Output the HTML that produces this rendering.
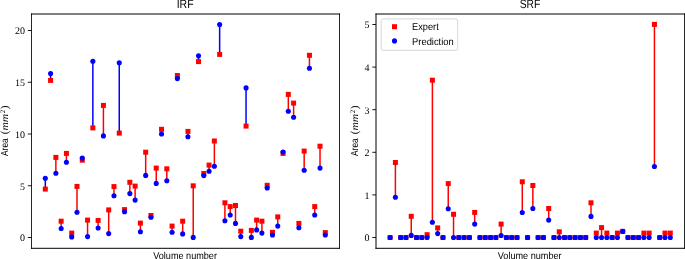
<!DOCTYPE html>
<html><head><meta charset="utf-8"><style>
html,body{margin:0;padding:0;background:#fff;overflow:hidden;}
svg{display:block;will-change:transform;text-rendering:geometricPrecision;}
text{fill:#000;}
.tk{font-family:"Liberation Serif",serif;font-size:10px;}
.ttl{font-family:"Liberation Sans",sans-serif;font-size:12px;}
.lbl{font-family:"Liberation Sans",sans-serif;font-size:10px;}
.mi{font-family:"Liberation Serif",serif;font-style:italic;font-size:10px;}
.par{font-family:"Liberation Serif",serif;font-size:11px;}
.sup{font-family:"Liberation Serif",serif;font-size:7px;}
</style></head><body>
<svg width="685" height="259" viewBox="0 0 685 259">
<rect width="685" height="259" fill="#fff"/>
<line x1="45.3" y1="189.1" x2="45.3" y2="178.2" stroke="#0000ff" stroke-width="1.5"/>
<line x1="50.58" y1="80.4" x2="50.58" y2="73.6" stroke="#0000ff" stroke-width="1.5"/>
<line x1="55.87" y1="157.4" x2="55.87" y2="173.3" stroke="#ff0000" stroke-width="1.5"/>
<line x1="61.15" y1="221.2" x2="61.15" y2="228.5" stroke="#ff0000" stroke-width="1.5"/>
<line x1="66.43" y1="153.4" x2="66.43" y2="162.3" stroke="#ff0000" stroke-width="1.5"/>
<line x1="71.72" y1="233.1" x2="71.72" y2="236.9" stroke="#ff0000" stroke-width="1.5"/>
<line x1="77" y1="186.4" x2="77" y2="212.3" stroke="#ff0000" stroke-width="1.5"/>
<line x1="82.28" y1="160.2" x2="82.28" y2="158.1" stroke="#0000ff" stroke-width="1.5"/>
<line x1="87.56" y1="220.1" x2="87.56" y2="236.6" stroke="#ff0000" stroke-width="1.5"/>
<line x1="92.85" y1="127.9" x2="92.85" y2="61.2" stroke="#0000ff" stroke-width="1.5"/>
<line x1="98.13" y1="220.4" x2="98.13" y2="228" stroke="#ff0000" stroke-width="1.5"/>
<line x1="103.41" y1="105.4" x2="103.41" y2="135.9" stroke="#ff0000" stroke-width="1.5"/>
<line x1="108.7" y1="209.9" x2="108.7" y2="233.6" stroke="#ff0000" stroke-width="1.5"/>
<line x1="113.98" y1="186.6" x2="113.98" y2="195.8" stroke="#ff0000" stroke-width="1.5"/>
<line x1="119.26" y1="133.1" x2="119.26" y2="62.8" stroke="#0000ff" stroke-width="1.5"/>
<line x1="124.55" y1="209.6" x2="124.55" y2="211.8" stroke="#ff0000" stroke-width="1.5"/>
<line x1="129.83" y1="182.3" x2="129.83" y2="193.6" stroke="#ff0000" stroke-width="1.5"/>
<line x1="135.11" y1="186.1" x2="135.11" y2="200.1" stroke="#ff0000" stroke-width="1.5"/>
<line x1="140.39" y1="223.1" x2="140.39" y2="231.8" stroke="#ff0000" stroke-width="1.5"/>
<line x1="145.68" y1="152.2" x2="145.68" y2="175.4" stroke="#ff0000" stroke-width="1.5"/>
<line x1="150.96" y1="215.5" x2="150.96" y2="217.2" stroke="#ff0000" stroke-width="1.5"/>
<line x1="156.24" y1="168.1" x2="156.24" y2="183.4" stroke="#ff0000" stroke-width="1.5"/>
<line x1="161.53" y1="129.3" x2="161.53" y2="134" stroke="#ff0000" stroke-width="1.5"/>
<line x1="166.81" y1="168.8" x2="166.81" y2="180.7" stroke="#ff0000" stroke-width="1.5"/>
<line x1="172.09" y1="226.1" x2="172.09" y2="232.3" stroke="#ff0000" stroke-width="1.5"/>
<line x1="177.38" y1="75.5" x2="177.38" y2="78.6" stroke="#ff0000" stroke-width="1.5"/>
<line x1="182.66" y1="221.2" x2="182.66" y2="233.9" stroke="#ff0000" stroke-width="1.5"/>
<line x1="187.94" y1="131.4" x2="187.94" y2="136.8" stroke="#ff0000" stroke-width="1.5"/>
<line x1="193.22" y1="185.8" x2="193.22" y2="237.4" stroke="#ff0000" stroke-width="1.5"/>
<line x1="198.51" y1="61.6" x2="198.51" y2="55.8" stroke="#0000ff" stroke-width="1.5"/>
<line x1="203.79" y1="173.5" x2="203.79" y2="175.6" stroke="#ff0000" stroke-width="1.5"/>
<line x1="209.07" y1="165.1" x2="209.07" y2="171.2" stroke="#ff0000" stroke-width="1.5"/>
<line x1="214.36" y1="141" x2="214.36" y2="166.3" stroke="#ff0000" stroke-width="1.5"/>
<line x1="219.64" y1="54.4" x2="219.64" y2="24.5" stroke="#0000ff" stroke-width="1.5"/>
<line x1="224.92" y1="202.8" x2="224.92" y2="220.7" stroke="#ff0000" stroke-width="1.5"/>
<line x1="230.21" y1="206.6" x2="230.21" y2="215" stroke="#ff0000" stroke-width="1.5"/>
<line x1="235.49" y1="205.5" x2="235.49" y2="223.4" stroke="#ff0000" stroke-width="1.5"/>
<line x1="240.77" y1="231.2" x2="240.77" y2="236.6" stroke="#ff0000" stroke-width="1.5"/>
<line x1="246.05" y1="126.1" x2="246.05" y2="87.9" stroke="#0000ff" stroke-width="1.5"/>
<line x1="251.34" y1="230.4" x2="251.34" y2="237.4" stroke="#ff0000" stroke-width="1.5"/>
<line x1="256.62" y1="220.1" x2="256.62" y2="229.9" stroke="#ff0000" stroke-width="1.5"/>
<line x1="261.9" y1="221.2" x2="261.9" y2="233.1" stroke="#ff0000" stroke-width="1.5"/>
<line x1="267.19" y1="185.3" x2="267.19" y2="188" stroke="#ff0000" stroke-width="1.5"/>
<line x1="272.47" y1="232.3" x2="272.47" y2="235" stroke="#ff0000" stroke-width="1.5"/>
<line x1="277.75" y1="216.9" x2="277.75" y2="226.1" stroke="#ff0000" stroke-width="1.5"/>
<line x1="283.04" y1="153.4" x2="283.04" y2="152" stroke="#0000ff" stroke-width="1.5"/>
<line x1="288.32" y1="94.4" x2="288.32" y2="111.3" stroke="#ff0000" stroke-width="1.5"/>
<line x1="293.6" y1="103.1" x2="293.6" y2="117.3" stroke="#ff0000" stroke-width="1.5"/>
<line x1="298.88" y1="223.4" x2="298.88" y2="227.7" stroke="#ff0000" stroke-width="1.5"/>
<line x1="304.17" y1="151.1" x2="304.17" y2="170.2" stroke="#ff0000" stroke-width="1.5"/>
<line x1="309.45" y1="55.3" x2="309.45" y2="68.2" stroke="#ff0000" stroke-width="1.5"/>
<line x1="314.73" y1="206.6" x2="314.73" y2="215" stroke="#ff0000" stroke-width="1.5"/>
<line x1="320.02" y1="146.2" x2="320.02" y2="168.1" stroke="#ff0000" stroke-width="1.5"/>
<line x1="325.3" y1="232.6" x2="325.3" y2="235" stroke="#ff0000" stroke-width="1.5"/>
<rect x="42.8" y="186.6" width="5" height="5" fill="#ff0000"/>
<rect x="48.08" y="77.9" width="5" height="5" fill="#ff0000"/>
<rect x="53.37" y="154.9" width="5" height="5" fill="#ff0000"/>
<rect x="58.65" y="218.7" width="5" height="5" fill="#ff0000"/>
<rect x="63.93" y="150.9" width="5" height="5" fill="#ff0000"/>
<rect x="69.22" y="230.6" width="5" height="5" fill="#ff0000"/>
<rect x="74.5" y="183.9" width="5" height="5" fill="#ff0000"/>
<rect x="79.78" y="157.7" width="5" height="5" fill="#ff0000"/>
<rect x="85.06" y="217.6" width="5" height="5" fill="#ff0000"/>
<rect x="90.35" y="125.4" width="5" height="5" fill="#ff0000"/>
<rect x="95.63" y="217.9" width="5" height="5" fill="#ff0000"/>
<rect x="100.91" y="102.9" width="5" height="5" fill="#ff0000"/>
<rect x="106.2" y="207.4" width="5" height="5" fill="#ff0000"/>
<rect x="111.48" y="184.1" width="5" height="5" fill="#ff0000"/>
<rect x="116.76" y="130.6" width="5" height="5" fill="#ff0000"/>
<rect x="122.05" y="207.1" width="5" height="5" fill="#ff0000"/>
<rect x="127.33" y="179.8" width="5" height="5" fill="#ff0000"/>
<rect x="132.61" y="183.6" width="5" height="5" fill="#ff0000"/>
<rect x="137.89" y="220.6" width="5" height="5" fill="#ff0000"/>
<rect x="143.18" y="149.7" width="5" height="5" fill="#ff0000"/>
<rect x="148.46" y="213" width="5" height="5" fill="#ff0000"/>
<rect x="153.74" y="165.6" width="5" height="5" fill="#ff0000"/>
<rect x="159.03" y="126.8" width="5" height="5" fill="#ff0000"/>
<rect x="164.31" y="166.3" width="5" height="5" fill="#ff0000"/>
<rect x="169.59" y="223.6" width="5" height="5" fill="#ff0000"/>
<rect x="174.88" y="73" width="5" height="5" fill="#ff0000"/>
<rect x="180.16" y="218.7" width="5" height="5" fill="#ff0000"/>
<rect x="185.44" y="128.9" width="5" height="5" fill="#ff0000"/>
<rect x="190.72" y="183.3" width="5" height="5" fill="#ff0000"/>
<rect x="196.01" y="59.1" width="5" height="5" fill="#ff0000"/>
<rect x="201.29" y="171" width="5" height="5" fill="#ff0000"/>
<rect x="206.57" y="162.6" width="5" height="5" fill="#ff0000"/>
<rect x="211.86" y="138.5" width="5" height="5" fill="#ff0000"/>
<rect x="217.14" y="51.9" width="5" height="5" fill="#ff0000"/>
<rect x="222.42" y="200.3" width="5" height="5" fill="#ff0000"/>
<rect x="227.71" y="204.1" width="5" height="5" fill="#ff0000"/>
<rect x="232.99" y="203" width="5" height="5" fill="#ff0000"/>
<rect x="238.27" y="228.7" width="5" height="5" fill="#ff0000"/>
<rect x="243.55" y="123.6" width="5" height="5" fill="#ff0000"/>
<rect x="248.84" y="227.9" width="5" height="5" fill="#ff0000"/>
<rect x="254.12" y="217.6" width="5" height="5" fill="#ff0000"/>
<rect x="259.4" y="218.7" width="5" height="5" fill="#ff0000"/>
<rect x="264.69" y="182.8" width="5" height="5" fill="#ff0000"/>
<rect x="269.97" y="229.8" width="5" height="5" fill="#ff0000"/>
<rect x="275.25" y="214.4" width="5" height="5" fill="#ff0000"/>
<rect x="280.54" y="150.9" width="5" height="5" fill="#ff0000"/>
<rect x="285.82" y="91.9" width="5" height="5" fill="#ff0000"/>
<rect x="291.1" y="100.6" width="5" height="5" fill="#ff0000"/>
<rect x="296.38" y="220.9" width="5" height="5" fill="#ff0000"/>
<rect x="301.67" y="148.6" width="5" height="5" fill="#ff0000"/>
<rect x="306.95" y="52.8" width="5" height="5" fill="#ff0000"/>
<rect x="312.23" y="204.1" width="5" height="5" fill="#ff0000"/>
<rect x="317.52" y="143.7" width="5" height="5" fill="#ff0000"/>
<rect x="322.8" y="230.1" width="5" height="5" fill="#ff0000"/>
<circle cx="45.3" cy="178.2" r="2.55" fill="#0000ff"/>
<circle cx="50.58" cy="73.6" r="2.55" fill="#0000ff"/>
<circle cx="55.87" cy="173.3" r="2.55" fill="#0000ff"/>
<circle cx="61.15" cy="228.5" r="2.55" fill="#0000ff"/>
<circle cx="66.43" cy="162.3" r="2.55" fill="#0000ff"/>
<circle cx="71.72" cy="236.9" r="2.55" fill="#0000ff"/>
<circle cx="77" cy="212.3" r="2.55" fill="#0000ff"/>
<circle cx="82.28" cy="158.1" r="2.55" fill="#0000ff"/>
<circle cx="87.56" cy="236.6" r="2.55" fill="#0000ff"/>
<circle cx="92.85" cy="61.2" r="2.55" fill="#0000ff"/>
<circle cx="98.13" cy="228" r="2.55" fill="#0000ff"/>
<circle cx="103.41" cy="135.9" r="2.55" fill="#0000ff"/>
<circle cx="108.7" cy="233.6" r="2.55" fill="#0000ff"/>
<circle cx="113.98" cy="195.8" r="2.55" fill="#0000ff"/>
<circle cx="119.26" cy="62.8" r="2.55" fill="#0000ff"/>
<circle cx="124.55" cy="211.8" r="2.55" fill="#0000ff"/>
<circle cx="129.83" cy="193.6" r="2.55" fill="#0000ff"/>
<circle cx="135.11" cy="200.1" r="2.55" fill="#0000ff"/>
<circle cx="140.39" cy="231.8" r="2.55" fill="#0000ff"/>
<circle cx="145.68" cy="175.4" r="2.55" fill="#0000ff"/>
<circle cx="150.96" cy="217.2" r="2.55" fill="#0000ff"/>
<circle cx="156.24" cy="183.4" r="2.55" fill="#0000ff"/>
<circle cx="161.53" cy="134" r="2.55" fill="#0000ff"/>
<circle cx="166.81" cy="180.7" r="2.55" fill="#0000ff"/>
<circle cx="172.09" cy="232.3" r="2.55" fill="#0000ff"/>
<circle cx="177.38" cy="78.6" r="2.55" fill="#0000ff"/>
<circle cx="182.66" cy="233.9" r="2.55" fill="#0000ff"/>
<circle cx="187.94" cy="136.8" r="2.55" fill="#0000ff"/>
<circle cx="193.22" cy="237.4" r="2.55" fill="#0000ff"/>
<circle cx="198.51" cy="55.8" r="2.55" fill="#0000ff"/>
<circle cx="203.79" cy="175.6" r="2.55" fill="#0000ff"/>
<circle cx="209.07" cy="171.2" r="2.55" fill="#0000ff"/>
<circle cx="214.36" cy="166.3" r="2.55" fill="#0000ff"/>
<circle cx="219.64" cy="24.5" r="2.55" fill="#0000ff"/>
<circle cx="224.92" cy="220.7" r="2.55" fill="#0000ff"/>
<circle cx="230.21" cy="215" r="2.55" fill="#0000ff"/>
<circle cx="235.49" cy="223.4" r="2.55" fill="#0000ff"/>
<circle cx="240.77" cy="236.6" r="2.55" fill="#0000ff"/>
<circle cx="246.05" cy="87.9" r="2.55" fill="#0000ff"/>
<circle cx="251.34" cy="237.4" r="2.55" fill="#0000ff"/>
<circle cx="256.62" cy="229.9" r="2.55" fill="#0000ff"/>
<circle cx="261.9" cy="233.1" r="2.55" fill="#0000ff"/>
<circle cx="267.19" cy="188" r="2.55" fill="#0000ff"/>
<circle cx="272.47" cy="235" r="2.55" fill="#0000ff"/>
<circle cx="277.75" cy="226.1" r="2.55" fill="#0000ff"/>
<circle cx="283.04" cy="152" r="2.55" fill="#0000ff"/>
<circle cx="288.32" cy="111.3" r="2.55" fill="#0000ff"/>
<circle cx="293.6" cy="117.3" r="2.55" fill="#0000ff"/>
<circle cx="298.88" cy="227.7" r="2.55" fill="#0000ff"/>
<circle cx="304.17" cy="170.2" r="2.55" fill="#0000ff"/>
<circle cx="309.45" cy="68.2" r="2.55" fill="#0000ff"/>
<circle cx="314.73" cy="215" r="2.55" fill="#0000ff"/>
<circle cx="320.02" cy="168.1" r="2.55" fill="#0000ff"/>
<circle cx="325.3" cy="235" r="2.55" fill="#0000ff"/>
<line x1="31" y1="14.0" x2="340" y2="14.0" stroke="#000" stroke-width="1"/>
<line x1="31" y1="248.3" x2="340" y2="248.3" stroke="#000" stroke-width="1"/>
<line x1="31.5" y1="13.5" x2="31.5" y2="248.8" stroke="#000" stroke-width="0.85"/>
<line x1="339.5" y1="13.5" x2="339.5" y2="248.8" stroke="#000" stroke-width="0.85"/>
<line x1="27.8" y1="237.5" x2="31.5" y2="237.5" stroke="#000" stroke-width="0.9"/>
<text x="24.9" y="241.3" text-anchor="end" class="tk">0</text>
<line x1="27.8" y1="185.75" x2="31.5" y2="185.75" stroke="#000" stroke-width="0.9"/>
<text x="24.9" y="189.55" text-anchor="end" class="tk">5</text>
<line x1="27.8" y1="134" x2="31.5" y2="134" stroke="#000" stroke-width="0.9"/>
<text x="24.9" y="137.8" text-anchor="end" class="tk">10</text>
<line x1="27.8" y1="82.25" x2="31.5" y2="82.25" stroke="#000" stroke-width="0.9"/>
<text x="24.9" y="86.05" text-anchor="end" class="tk">15</text>
<line x1="27.8" y1="30.5" x2="31.5" y2="30.5" stroke="#000" stroke-width="0.9"/>
<text x="24.9" y="34.3" text-anchor="end" class="tk">20</text>
<text x="176.64" y="8" textLength="16.93" lengthAdjust="spacingAndGlyphs" class="ttl">IRF</text>
<text x="153.21" y="259" textLength="63.72" lengthAdjust="spacingAndGlyphs" class="lbl">Volume number</text>
<g transform="translate(8.2,0) rotate(-90)"><text x="-156" y="0" textLength="17.72" lengthAdjust="spacingAndGlyphs" class="lbl">Area</text><text x="-134.3" y="0" class="par">(</text><text x="-130.56" y="0" textLength="16.78" lengthAdjust="spacingAndGlyphs" class="mi">mm</text><text x="-113.2" y="-3.4" class="sup">2</text><text x="-109.2" y="0" class="par">)</text></g>
<line x1="395.39" y1="162.5" x2="395.39" y2="197.2" stroke="#ff0000" stroke-width="1.5"/>
<line x1="411.25" y1="216.3" x2="411.25" y2="235.4" stroke="#ff0000" stroke-width="1.5"/>
<line x1="427.11" y1="234.7" x2="427.11" y2="237.5" stroke="#ff0000" stroke-width="1.5"/>
<line x1="432.39" y1="80.2" x2="432.39" y2="222.2" stroke="#ff0000" stroke-width="1.5"/>
<line x1="437.68" y1="227.9" x2="437.68" y2="233.6" stroke="#ff0000" stroke-width="1.5"/>
<line x1="448.25" y1="183.6" x2="448.25" y2="208.7" stroke="#ff0000" stroke-width="1.5"/>
<line x1="453.54" y1="214.3" x2="453.54" y2="237.5" stroke="#ff0000" stroke-width="1.5"/>
<line x1="474.69" y1="212.4" x2="474.69" y2="224.1" stroke="#ff0000" stroke-width="1.5"/>
<line x1="501.12" y1="224.1" x2="501.12" y2="235.5" stroke="#ff0000" stroke-width="1.5"/>
<line x1="522.27" y1="181.8" x2="522.27" y2="212.5" stroke="#ff0000" stroke-width="1.5"/>
<line x1="532.84" y1="185.5" x2="532.84" y2="208.5" stroke="#ff0000" stroke-width="1.5"/>
<line x1="548.7" y1="208.5" x2="548.7" y2="220.1" stroke="#ff0000" stroke-width="1.5"/>
<line x1="559.28" y1="231.8" x2="559.28" y2="237.5" stroke="#ff0000" stroke-width="1.5"/>
<line x1="591" y1="202.8" x2="591" y2="216.4" stroke="#ff0000" stroke-width="1.5"/>
<line x1="596.28" y1="233.1" x2="596.28" y2="237.5" stroke="#ff0000" stroke-width="1.5"/>
<line x1="601.57" y1="227.6" x2="601.57" y2="237.5" stroke="#ff0000" stroke-width="1.5"/>
<line x1="606.86" y1="233.1" x2="606.86" y2="237.5" stroke="#ff0000" stroke-width="1.5"/>
<line x1="617.43" y1="233.1" x2="617.43" y2="237.5" stroke="#ff0000" stroke-width="1.5"/>
<line x1="643.87" y1="233.1" x2="643.87" y2="237.5" stroke="#ff0000" stroke-width="1.5"/>
<line x1="649.15" y1="233.1" x2="649.15" y2="237.5" stroke="#ff0000" stroke-width="1.5"/>
<line x1="654.44" y1="24.4" x2="654.44" y2="166.5" stroke="#ff0000" stroke-width="1.5"/>
<line x1="665.01" y1="233.1" x2="665.01" y2="237.5" stroke="#ff0000" stroke-width="1.5"/>
<line x1="670.3" y1="233.1" x2="670.3" y2="237.5" stroke="#ff0000" stroke-width="1.5"/>
<rect x="387.6" y="235" width="5" height="5" fill="#ff0000"/>
<rect x="392.89" y="160" width="5" height="5" fill="#ff0000"/>
<rect x="398.17" y="235" width="5" height="5" fill="#ff0000"/>
<rect x="403.46" y="235" width="5" height="5" fill="#ff0000"/>
<rect x="408.75" y="213.8" width="5" height="5" fill="#ff0000"/>
<rect x="414.03" y="235" width="5" height="5" fill="#ff0000"/>
<rect x="419.32" y="235" width="5" height="5" fill="#ff0000"/>
<rect x="424.61" y="232.2" width="5" height="5" fill="#ff0000"/>
<rect x="429.89" y="77.7" width="5" height="5" fill="#ff0000"/>
<rect x="435.18" y="225.4" width="5" height="5" fill="#ff0000"/>
<rect x="440.47" y="235" width="5" height="5" fill="#ff0000"/>
<rect x="445.75" y="181.1" width="5" height="5" fill="#ff0000"/>
<rect x="451.04" y="211.8" width="5" height="5" fill="#ff0000"/>
<rect x="456.33" y="235" width="5" height="5" fill="#ff0000"/>
<rect x="461.62" y="235" width="5" height="5" fill="#ff0000"/>
<rect x="466.9" y="235" width="5" height="5" fill="#ff0000"/>
<rect x="472.19" y="209.9" width="5" height="5" fill="#ff0000"/>
<rect x="477.48" y="235" width="5" height="5" fill="#ff0000"/>
<rect x="482.76" y="235" width="5" height="5" fill="#ff0000"/>
<rect x="488.05" y="235" width="5" height="5" fill="#ff0000"/>
<rect x="493.34" y="235" width="5" height="5" fill="#ff0000"/>
<rect x="498.62" y="221.6" width="5" height="5" fill="#ff0000"/>
<rect x="503.91" y="235" width="5" height="5" fill="#ff0000"/>
<rect x="509.2" y="235" width="5" height="5" fill="#ff0000"/>
<rect x="514.48" y="235" width="5" height="5" fill="#ff0000"/>
<rect x="519.77" y="179.3" width="5" height="5" fill="#ff0000"/>
<rect x="525.06" y="235" width="5" height="5" fill="#ff0000"/>
<rect x="530.34" y="183" width="5" height="5" fill="#ff0000"/>
<rect x="535.63" y="235" width="5" height="5" fill="#ff0000"/>
<rect x="540.92" y="235" width="5" height="5" fill="#ff0000"/>
<rect x="546.2" y="206" width="5" height="5" fill="#ff0000"/>
<rect x="551.49" y="235" width="5" height="5" fill="#ff0000"/>
<rect x="556.78" y="229.3" width="5" height="5" fill="#ff0000"/>
<rect x="562.06" y="235" width="5" height="5" fill="#ff0000"/>
<rect x="567.35" y="235" width="5" height="5" fill="#ff0000"/>
<rect x="572.64" y="235" width="5" height="5" fill="#ff0000"/>
<rect x="577.92" y="235" width="5" height="5" fill="#ff0000"/>
<rect x="583.21" y="235" width="5" height="5" fill="#ff0000"/>
<rect x="588.5" y="200.3" width="5" height="5" fill="#ff0000"/>
<rect x="593.78" y="230.6" width="5" height="5" fill="#ff0000"/>
<rect x="599.07" y="225.1" width="5" height="5" fill="#ff0000"/>
<rect x="604.36" y="230.6" width="5" height="5" fill="#ff0000"/>
<rect x="609.65" y="235" width="5" height="5" fill="#ff0000"/>
<rect x="614.93" y="230.6" width="5" height="5" fill="#ff0000"/>
<rect x="620.22" y="228.9" width="5" height="5" fill="#ff0000"/>
<rect x="625.51" y="235" width="5" height="5" fill="#ff0000"/>
<rect x="630.79" y="235" width="5" height="5" fill="#ff0000"/>
<rect x="636.08" y="235" width="5" height="5" fill="#ff0000"/>
<rect x="641.37" y="230.6" width="5" height="5" fill="#ff0000"/>
<rect x="646.65" y="230.6" width="5" height="5" fill="#ff0000"/>
<rect x="651.94" y="21.9" width="5" height="5" fill="#ff0000"/>
<rect x="657.23" y="235" width="5" height="5" fill="#ff0000"/>
<rect x="662.51" y="230.6" width="5" height="5" fill="#ff0000"/>
<rect x="667.8" y="230.6" width="5" height="5" fill="#ff0000"/>
<circle cx="390.1" cy="237.5" r="2.55" fill="#0000ff"/>
<circle cx="395.39" cy="197.2" r="2.55" fill="#0000ff"/>
<circle cx="400.67" cy="237.5" r="2.55" fill="#0000ff"/>
<circle cx="405.96" cy="237.5" r="2.55" fill="#0000ff"/>
<circle cx="411.25" cy="235.4" r="2.55" fill="#0000ff"/>
<circle cx="416.53" cy="237.5" r="2.55" fill="#0000ff"/>
<circle cx="421.82" cy="237.5" r="2.55" fill="#0000ff"/>
<circle cx="427.11" cy="237.5" r="2.55" fill="#0000ff"/>
<circle cx="432.39" cy="222.2" r="2.55" fill="#0000ff"/>
<circle cx="437.68" cy="233.6" r="2.55" fill="#0000ff"/>
<circle cx="442.97" cy="237.5" r="2.55" fill="#0000ff"/>
<circle cx="448.25" cy="208.7" r="2.55" fill="#0000ff"/>
<circle cx="453.54" cy="237.5" r="2.55" fill="#0000ff"/>
<circle cx="458.83" cy="237.5" r="2.55" fill="#0000ff"/>
<circle cx="464.12" cy="237.5" r="2.55" fill="#0000ff"/>
<circle cx="469.4" cy="237.5" r="2.55" fill="#0000ff"/>
<circle cx="474.69" cy="224.1" r="2.55" fill="#0000ff"/>
<circle cx="479.98" cy="237.5" r="2.55" fill="#0000ff"/>
<circle cx="485.26" cy="237.5" r="2.55" fill="#0000ff"/>
<circle cx="490.55" cy="237.5" r="2.55" fill="#0000ff"/>
<circle cx="495.84" cy="237.5" r="2.55" fill="#0000ff"/>
<circle cx="501.12" cy="235.5" r="2.55" fill="#0000ff"/>
<circle cx="506.41" cy="237.5" r="2.55" fill="#0000ff"/>
<circle cx="511.7" cy="237.5" r="2.55" fill="#0000ff"/>
<circle cx="516.98" cy="237.5" r="2.55" fill="#0000ff"/>
<circle cx="522.27" cy="212.5" r="2.55" fill="#0000ff"/>
<circle cx="527.56" cy="237.5" r="2.55" fill="#0000ff"/>
<circle cx="532.84" cy="208.5" r="2.55" fill="#0000ff"/>
<circle cx="538.13" cy="237.5" r="2.55" fill="#0000ff"/>
<circle cx="543.42" cy="237.5" r="2.55" fill="#0000ff"/>
<circle cx="548.7" cy="220.1" r="2.55" fill="#0000ff"/>
<circle cx="553.99" cy="237.5" r="2.55" fill="#0000ff"/>
<circle cx="559.28" cy="237.5" r="2.55" fill="#0000ff"/>
<circle cx="564.56" cy="237.5" r="2.55" fill="#0000ff"/>
<circle cx="569.85" cy="237.5" r="2.55" fill="#0000ff"/>
<circle cx="575.14" cy="237.5" r="2.55" fill="#0000ff"/>
<circle cx="580.42" cy="237.5" r="2.55" fill="#0000ff"/>
<circle cx="585.71" cy="237.5" r="2.55" fill="#0000ff"/>
<circle cx="591" cy="216.4" r="2.55" fill="#0000ff"/>
<circle cx="596.28" cy="237.5" r="2.55" fill="#0000ff"/>
<circle cx="601.57" cy="237.5" r="2.55" fill="#0000ff"/>
<circle cx="606.86" cy="237.5" r="2.55" fill="#0000ff"/>
<circle cx="612.15" cy="237.5" r="2.55" fill="#0000ff"/>
<circle cx="617.43" cy="237.5" r="2.55" fill="#0000ff"/>
<circle cx="622.72" cy="231.4" r="2.55" fill="#0000ff"/>
<circle cx="628.01" cy="237.5" r="2.55" fill="#0000ff"/>
<circle cx="633.29" cy="237.5" r="2.55" fill="#0000ff"/>
<circle cx="638.58" cy="237.5" r="2.55" fill="#0000ff"/>
<circle cx="643.87" cy="237.5" r="2.55" fill="#0000ff"/>
<circle cx="649.15" cy="237.5" r="2.55" fill="#0000ff"/>
<circle cx="654.44" cy="166.5" r="2.55" fill="#0000ff"/>
<circle cx="659.73" cy="237.5" r="2.55" fill="#0000ff"/>
<circle cx="665.01" cy="237.5" r="2.55" fill="#0000ff"/>
<circle cx="670.3" cy="237.5" r="2.55" fill="#0000ff"/>
<line x1="375.5" y1="14.0" x2="685" y2="14.0" stroke="#000" stroke-width="1"/>
<line x1="375.5" y1="248.3" x2="685" y2="248.3" stroke="#000" stroke-width="1"/>
<line x1="376" y1="13.5" x2="376" y2="248.8" stroke="#000" stroke-width="1.0"/>
<line x1="684.5" y1="13.5" x2="684.5" y2="248.8" stroke="#000" stroke-width="0.85"/>
<line x1="372.3" y1="237.5" x2="376" y2="237.5" stroke="#000" stroke-width="0.9"/>
<text x="369.4" y="241.3" text-anchor="end" class="tk">0</text>
<line x1="372.3" y1="194.9" x2="376" y2="194.9" stroke="#000" stroke-width="0.9"/>
<text x="369.4" y="198.7" text-anchor="end" class="tk">1</text>
<line x1="372.3" y1="152.3" x2="376" y2="152.3" stroke="#000" stroke-width="0.9"/>
<text x="369.4" y="156.1" text-anchor="end" class="tk">2</text>
<line x1="372.3" y1="109.7" x2="376" y2="109.7" stroke="#000" stroke-width="0.9"/>
<text x="369.4" y="113.5" text-anchor="end" class="tk">3</text>
<line x1="372.3" y1="67.1" x2="376" y2="67.1" stroke="#000" stroke-width="0.9"/>
<text x="369.4" y="70.9" text-anchor="end" class="tk">4</text>
<line x1="372.3" y1="24.5" x2="376" y2="24.5" stroke="#000" stroke-width="0.9"/>
<text x="369.4" y="28.3" text-anchor="end" class="tk">5</text>
<text x="519.69" y="8" textLength="20.54" lengthAdjust="spacingAndGlyphs" class="ttl">SRF</text>
<text x="497.81" y="259" textLength="63.82" lengthAdjust="spacingAndGlyphs" class="lbl">Volume number</text>
<g transform="translate(357.9,0) rotate(-90)"><text x="-156" y="0" textLength="17.72" lengthAdjust="spacingAndGlyphs" class="lbl">Area</text><text x="-134.3" y="0" class="par">(</text><text x="-130.56" y="0" textLength="16.78" lengthAdjust="spacingAndGlyphs" class="mi">mm</text><text x="-113.2" y="-3.4" class="sup">2</text><text x="-109.2" y="0" class="par">)</text></g>
<rect x="381.2" y="18.9" width="76.5" height="31.4" rx="2" ry="2" fill="#fff" fill-opacity="0.8" stroke="#cccccc" stroke-width="0.8"/>
<rect x="392" y="24.2" width="5" height="5" fill="#ff0000"/>
<circle cx="394.5" cy="40.9" r="2.55" fill="#0000ff"/>
<text x="412.06" y="30" textLength="26.73" lengthAdjust="spacingAndGlyphs" class="lbl">Expert</text>
<text x="412.05" y="45" textLength="41.68" lengthAdjust="spacingAndGlyphs" class="lbl">Prediction</text>
</svg>
</body></html>
